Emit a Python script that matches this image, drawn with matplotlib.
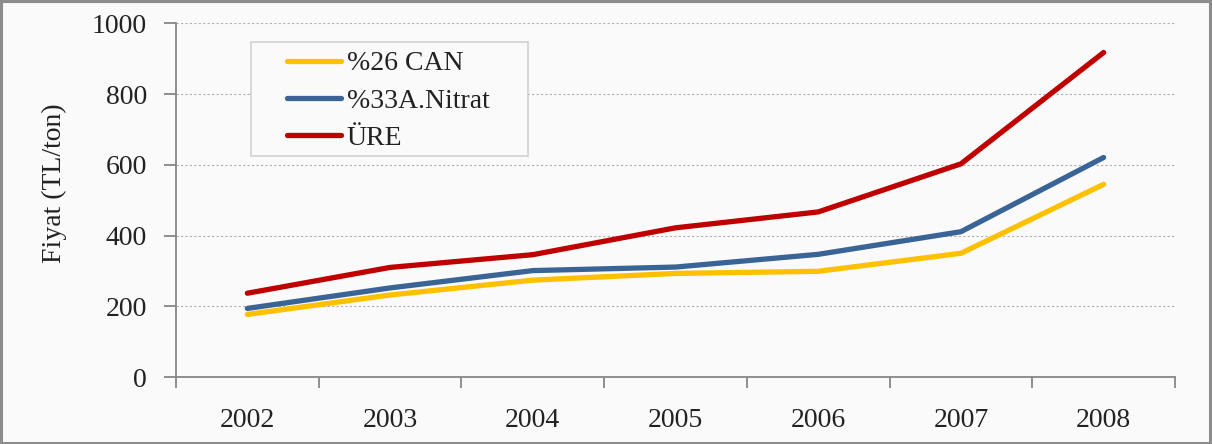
import matplotlib
matplotlib.use("Agg")
import matplotlib.pyplot as plt
from matplotlib.patches import Rectangle
from matplotlib.ticker import FixedLocator, NullFormatter

years = ["2002", "2003", "2004", "2005", "2006", "2007", "2008"]
can26 = [177, 232, 274, 293, 299, 350, 545]
nitrat33 = [194, 252, 301, 311, 347, 411, 621]
ure = [237, 310, 346, 422, 467, 603, 918]
series_names = ["%26 CAN", "%33A.Nitrat", "ÜRE"]
series_colors = ["#FFC000", "#3B6496", "#C00000"]

plt.rcParams["font.family"] = ["Liberation Serif", "DejaVu Serif"]

W, H = 1212, 444
fig = plt.figure(figsize=(W / 100, H / 100), dpi=100, facecolor="#FAFAFA")
ax = fig.add_axes([176 / W, 1 - 377 / H, (1175 - 176) / W, (377 - 23.5) / H])
ax.set_facecolor("#FAFAFA")

# outer frame of the chart
fig.patches.append(Rectangle((0.001, 0.002), 0.997, 0.995, transform=fig.transFigure,
                             fill=False, edgecolor="#8C8C8C", linewidth=2.2))

x = list(range(len(years)))
for vals, name, col in zip([can26, nitrat33, ure], series_names, series_colors):
    ax.plot(x, vals, color=col, linewidth=3.8, solid_capstyle="round",
            solid_joinstyle="round", label=name, zorder=3)

ax.set_xlim(-0.5, len(years) - 0.5)
ax.set_ylim(0, 1000)
ax.set_yticks([0, 200, 400, 600, 800, 1000])
ax.set_xticks(x)
ax.set_xticklabels(years)
ax.xaxis.set_minor_locator(FixedLocator([i - 0.5 for i in range(len(years) + 1)]))
ax.xaxis.set_minor_formatter(NullFormatter())

ax.tick_params(axis="x", which="major", length=0, pad=22, labelsize=20, colors="#222222")
ax.tick_params(axis="x", which="minor", length=8, width=1.3, color="#868686", direction="out")
ax.tick_params(axis="y", length=9, width=1.3, color="#868686", pad=12, labelsize=20,
               labelcolor="#222222")

ax.grid(axis="y", color="#B0B0B0", linestyle=(0, (2, 2)), linewidth=0.8, zorder=0)
for s in ["top", "right"]:
    ax.spines[s].set_visible(False)
for s in ["left", "bottom"]:
    ax.spines[s].set_color("#868686")
    ax.spines[s].set_linewidth(1.3)

ax.set_ylabel("Fiyat (TL/ton)", fontsize=20, color="#222222", labelpad=18, y=0.549)

# legend box
fig.patches.append(Rectangle((251 / W, 1 - 156 / H), (528 - 251) / W, (156 - 42) / H,
                             transform=fig.transFigure, facecolor="#FAFAFA",
                             edgecolor="#D0D0D0", linewidth=1.2, zorder=4))
leg = fig.legend(*ax.get_legend_handles_labels(), loc="upper left",
                 bbox_to_anchor=(287 / W, 1 - 51 / H),
                 fontsize=20, frameon=False, handlelength=1.95,
                 handletextpad=0.2, labelspacing=0.43, borderpad=0, borderaxespad=0)
leg.set_zorder(5)
for t in leg.get_texts():
    t.set_color("#222222")

fig.savefig("out.png", dpi=100, facecolor=fig.get_facecolor())
